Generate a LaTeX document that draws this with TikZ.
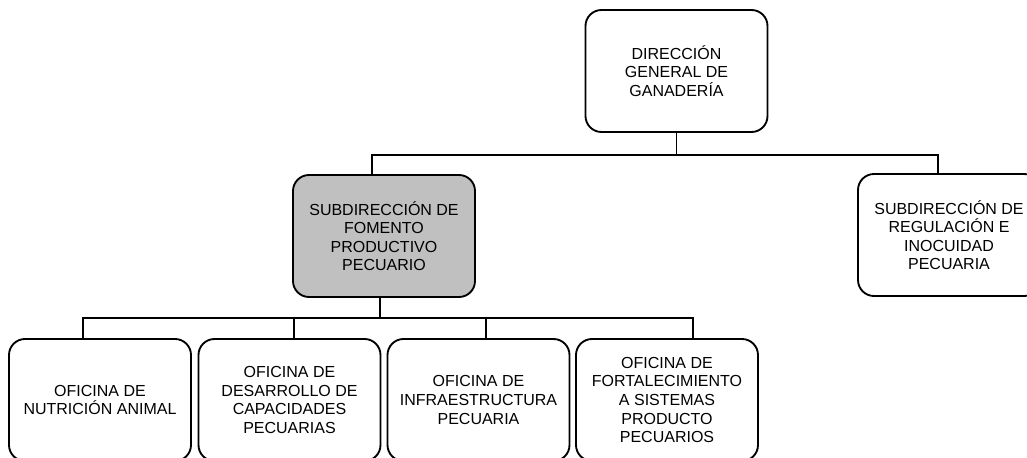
\documentclass[tikz,border=0pt]{standalone}
\usepackage{fontspec}
\setmainfont{Liberation Sans}
\definecolor{gris}{RGB}{192,192,192}
\begin{document}
\begin{tikzpicture}[x=0.75pt, y=-0.75pt, line width=1.4pt,
    every node/.style={draw, rounded corners=12pt, align=center, inner sep=0pt,
      minimum width=136.5pt, minimum height=91.5pt, font=\fontsize{12}{13.9}\selectfont},
    sombra/.style={fill=gris}]
  \clip (0,0) rectangle (1027,457);
  \node (dg) at (676.5,71) {DIRECCIÓN\\GENERAL DE\\GANADERÍA};
  \node [sombra] (sf) at (384,236) {SUBDIRECCIÓN DE\\FOMENTO\\PRODUCTIVO\\PECUARIO};
  \node (sr) at (949,235) {SUBDIRECCIÓN DE\\REGULACIÓN E\\INOCUIDAD\\PECUARIA};
  \node (o1) at (100,400) {OFICINA DE\\NUTRICIÓN ANIMAL};
  \node (o2) at (289.5,400) {OFICINA DE\\DESARROLLO DE\\CAPACIDADES\\PECUARIAS};
  \node (o3) at (478.5,400) {OFICINA DE\\INFRAESTRUCTURA\\PECUARIA};
  \node (o4) at (667,400) {OFICINA DE\\FORTALECIMIENTO\\A SISTEMAS\\PRODUCTO\\PECUARIOS};
  % primer nivel
  \draw (dg.south) -- ++(0,22) coordinate (j1);
  \draw (j1) -| ([shift={(-12,0)}]sf.north);
  \draw (j1) -| ([shift={(-11,0)}]sr.north);
  % oficinas
  \draw ([shift={(-4,0)}]sf.south) -- ++(0,20) coordinate (j2);
  \draw (j2) -| ([shift={(-17,0)}]o1.north);
  \draw (j2) -| ([shift={(4.5,0)}]o2.north);
  \draw (j2) -| ([shift={(7.5,0)}]o3.north);
  \draw (j2) -| ([shift={(26,0)}]o4.north);
\end{tikzpicture}
\end{document}
